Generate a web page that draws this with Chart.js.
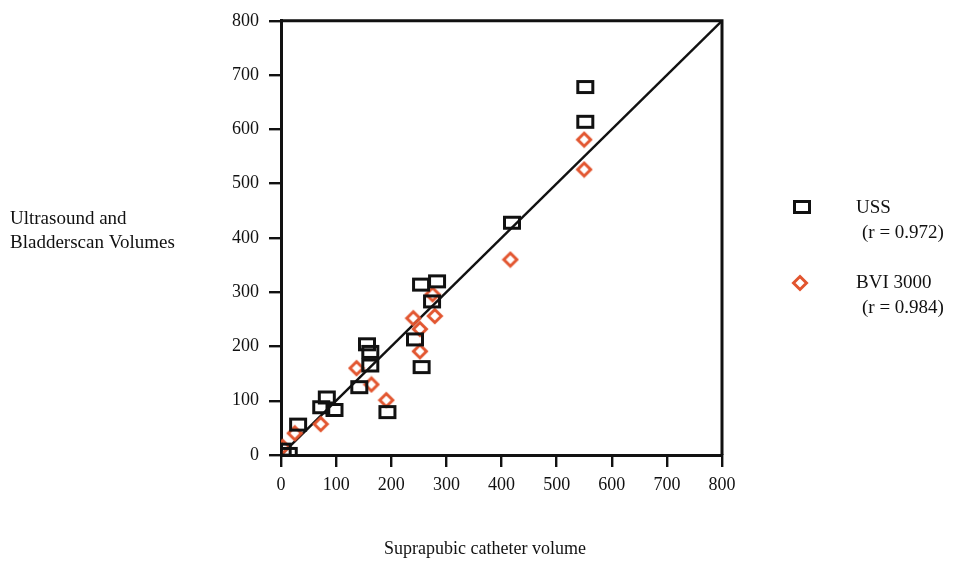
<!DOCTYPE html>
<html>
<head>
<meta charset="utf-8">
<script src="https://cdn.jsdelivr.net/npm/chart.js@4"></script>
<style>
  html, body { margin: 0; padding: 0; background: #fff; }
  #wrap { width: 972px; height: 562px; position: relative; }
</style>
</head>
<body>
<div id="wrap"><canvas id="scatter_chart" width="972" height="562"></canvas></div>
<script>
// values
const uss_x = [3, 14, 31, 73, 83, 97, 142, 156, 162, 162, 193, 243, 255, 254, 283, 274, 419, 552, 552];
const uss_y = [10, 2, 56, 88, 106, 83, 125, 204, 190, 165, 79, 213, 162, 314, 320, 283, 428, 614, 678];
const bvi_x = [3, 25, 72, 137, 164, 191, 240, 252, 252, 279, 275, 416, 550, 550];
const bvi_y = [15, 40, 57, 160, 130, 101, 252, 232, 191, 256, 296, 360, 526, 581];
const line_x = [0, 800];
const line_y = [0, 800];
const axis_ticks = [0, 100, 200, 300, 400, 500, 600, 700, 800];

const series_names = ['USS', 'BVI 3000'];
const series_r = ['(r = 0.972)', '(r = 0.984)'];
const y_title = ['Ultrasound and', 'Bladderscan Volumes'];
const x_title = 'Suprapubic catheter volume';

const red = '#e2552f';
const ink = '#111';
const serif = '"Liberation Serif", "DejaVu Serif", serif';

function pts(xs, ys) {
  return xs.map((x, i) => ({ x: x, y: ys[i] }));
}

// marker images
function makeSquare() {
  const c = document.createElement('canvas');
  c.width = 20; c.height = 16;
  const g = c.getContext('2d');
  g.strokeStyle = ink;
  g.lineWidth = 3;
  g.strokeRect(2.5, 2.5, 15, 11);
  return c;
}
function makeDiamond() {
  const c = document.createElement('canvas');
  c.width = 18; c.height = 18;
  const g = c.getContext('2d');
  g.strokeStyle = red;
  g.lineWidth = 3;
  g.beginPath();
  g.moveTo(9, 2.5); g.lineTo(15.5, 9); g.lineTo(9, 15.5); g.lineTo(2.5, 9);
  g.closePath();
  g.stroke();
  return c;
}
const squareImg = makeSquare();
const diamondImg = makeDiamond();

const extras = {
  id: 'extras',
  afterDraw(chart) {
    const ctx = chart.ctx;
    const a = chart.chartArea;
    ctx.save();
    // top and right frame
    ctx.strokeStyle = ink;
    ctx.lineWidth = 3;
    ctx.beginPath();
    ctx.moveTo(a.left, a.top);
    ctx.lineTo(a.right, a.top);
    ctx.lineTo(a.right, a.bottom);
    ctx.stroke();

    ctx.fillStyle = ink;
    ctx.textBaseline = 'middle';
    ctx.textAlign = 'left';
    ctx.font = '19px ' + serif;
    ctx.fillText(y_title[0], 10, 219);
    ctx.fillText(y_title[1], 10, 243);

    ctx.textAlign = 'center';
    ctx.font = '18px ' + serif;
    ctx.fillText(x_title, 485, 549);

    // legend
    ctx.textAlign = 'left';
    ctx.font = '19px ' + serif;
    ctx.drawImage(squareImg, 792, 199);
    ctx.fillText(series_names[0], 856, 208);
    ctx.fillText(series_r[0], 862, 233);
    ctx.drawImage(diamondImg, 791, 274);
    ctx.fillText(series_names[1], 856, 283);
    ctx.fillText(series_r[1], 862, 308);
    ctx.restore();
  }
};

const ctx = document.getElementById('scatter_chart').getContext('2d');

new Chart(ctx, {
  type: 'scatter',
  data: {
    datasets: [{
      label: 'line',
      type: 'line',
      data: pts(line_x, line_y),
      borderColor: ink,
      borderWidth: 2.4,
      pointRadius: 0,
      order: 3
    }, {
      label: series_names[1],
      data: pts(bvi_x, bvi_y),
      pointStyle: diamondImg,
      order: 2
    }, {
      label: series_names[0],
      data: pts(uss_x, uss_y),
      pointStyle: squareImg,
      order: 1
    }]
  },
  options: {
    responsive: false,
    animation: false,
    layout: {
      padding: { top: 20, right: 250, left: 0, bottom: 0 }
    },
    plugins: {
      legend: { display: false },
      tooltip: { enabled: false }
    },
    scales: {
      x: {
        type: 'linear',
        min: 0,
        max: 800,
        afterBuildTicks: (scale) => { scale.ticks = axis_ticks.map(v => ({ value: v })); },
        afterFit: (scale) => { scale.height = 107; },
        grid: { drawOnChartArea: false, drawTicks: true, tickLength: 12, color: ink, lineWidth: 2.4 },
        border: { color: ink, width: 3 },
        ticks: { color: ink, padding: 7, font: { family: serif, size: 18 } }
      },
      y: {
        type: 'linear',
        min: 0,
        max: 800,
        afterBuildTicks: (scale) => { scale.ticks = axis_ticks.map(v => ({ value: v })); },
        afterFit: (scale) => { scale.width = 281; },
        grid: { drawOnChartArea: false, drawTicks: true, tickLength: 12, color: ink, lineWidth: 2.4 },
        border: { color: ink, width: 3 },
        ticks: { color: ink, padding: 10, font: { family: serif, size: 18 } }
      }
    }
  },
  plugins: [extras]
});
</script>
</body>
</html>
